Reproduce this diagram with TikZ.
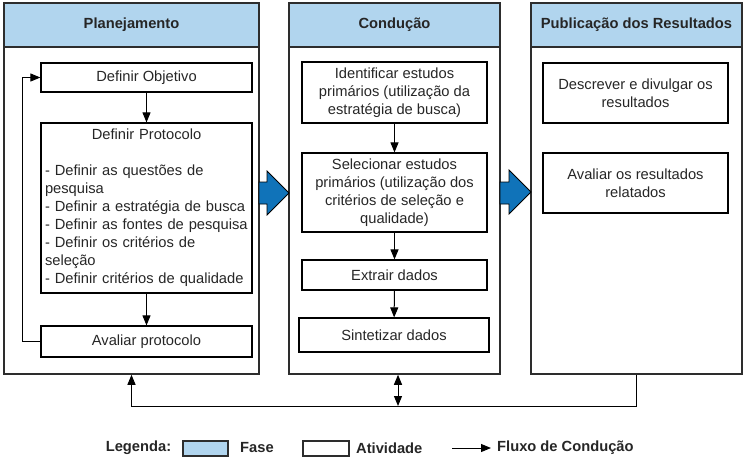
\documentclass[tikz,border=0pt]{standalone}
\usepackage{fontspec}
\setmainfont{Liberation Sans}
\usetikzlibrary{arrows.meta}
\definecolor{faseblue}{RGB}{177,213,238}
\definecolor{setablue}{RGB}{16,115,185}
\definecolor{borda}{RGB}{45,45,45}

\begin{document}
\begin{tikzpicture}[x=1pt,y=-1pt,
	font=\fontsize{14.7}{18}\selectfont, text=black!85,
	fase/.style={draw=borda,line width=1.5pt,minimum height=371pt,inner sep=0pt},
	titulo/.style={draw=borda,fill=faseblue,line width=1.5pt,minimum height=44pt,inner sep=0pt,font=\fontsize{14.7}{18}\selectfont\bfseries},
	atv/.style={draw=black,line width=1.2pt,inner sep=3pt,align=center},
	fluxo/.style={-{Triangle[length=10pt,width=8pt]},line width=1pt},
	seta/.style={fill=setablue,draw=black,line width=0.8pt},
	leg/.style={inner sep=0pt,font=\fontsize{14.7}{18}\selectfont\bfseries}]
		\useasboundingbox (0,0) rectangle (751,464);
		% fases
		\node[fase,minimum width=255pt] (plan) at (131.5,188.5) {};
		\node[fase,minimum width=211pt] (cond) at (394.5,188.5) {};
		\node[fase,minimum width=211pt] (pub) at (636.5,188.5) {};
		\node[titulo,minimum width=255pt] (planT) at (131.5,25) {Planejamento};
		\node[titulo,minimum width=211pt] (condT) at (394.5,25) {Condução};
		\node[titulo,minimum width=211pt] (pubT) at (636.5,25) {Publicação dos Resultados};
		% planejamento
		\node[atv,minimum width=211pt,minimum height=29pt] (obj) at (146.5,77.5) {Definir Objetivo};
		\node[atv,minimum width=211pt,minimum height=170pt,text width=203pt,align=left] (prot) at (146.5,208) {\makebox[203pt]{Definir Protocolo}\\[18pt]
			- Definir as questões de\\pesquisa\\- Definir a estratégia de busca\\- Definir as fontes de pesquisa\\- Definir os critérios de\\seleção\\- Definir critérios de qualidade};
		\node[atv,minimum width=211pt,minimum height=31pt] (aval) at (146.5,341.5) {Avaliar protocolo};
		\draw[fluxo] (obj) -- (prot);
		\draw[fluxo] (prot) -- (aval);
		\draw[fluxo] (aval.west) -- ++(-18,0) |- (obj.west);
		% conducao
		\node[atv,minimum width=185pt,minimum height=61pt] (ident) at (394.5,92.5) {Identificar estudos\\primários (utilização da\\estratégia de busca)};
		\node[atv,minimum width=185pt,minimum height=79pt] (sel) at (394.5,192.5) {Selecionar estudos\\primários (utilização dos\\critérios de seleção e\\qualidade)};
		\node[atv,minimum width=185pt,minimum height=30pt] (extr) at (394.5,275) {Extrair dados};
		\node[atv,minimum width=190pt,minimum height=34pt] (sint) at (394,335) {Sintetizar dados};
		\draw[fluxo] (ident) -- (sel);
		\draw[fluxo] (sel) -- (extr);
		\draw[fluxo] (extr) -- (sint);
		% publicacao
		\node[atv,minimum width=185pt,minimum height=60pt] (desc) at (635.5,93) {Descrever e divulgar os\\resultados};
		\node[atv,minimum width=185pt,minimum height=60pt] (avres) at (635.5,183) {Avaliar os resultados\\relatados};
		% setas entre fases
		\filldraw[seta] (259,182) -- (267,182) -- (267,171) -- (289,193) -- (267,215) -- (267,204) -- (259,204) -- cycle;
		\filldraw[seta] (500,182) -- (509,182) -- (509,170) -- (531,192) -- (509,214) -- (509,204) -- (500,204) -- cycle;
		% retorno
		\coordinate (junc) at (398,406);
		\draw[fluxo] (pub.south) -- ++(0,32) -| (plan.south);
		\draw[fluxo,{Triangle[length=10pt,width=8pt]}-{Triangle[length=10pt,width=8pt]}] (junc) -- (junc |- cond.south);
		% legenda
		\node[leg] (legTxt) at (138.5,448) {Legenda:};
		\node[draw=borda,fill=faseblue,line width=1.2pt,minimum width=45pt,minimum height=15pt,inner sep=0pt] (legFase) at (205.5,448.5) {};
		\node[leg,anchor=west] (legFaseTxt) at (240,448) {Fase};
		\node[draw=borda,line width=1.2pt,minimum width=46pt,minimum height=15pt,inner sep=0pt] (legAtv) at (326,448.5) {};
		\node[leg,anchor=west] (legAtvTxt) at (356,448) {Atividade};
		\coordinate (legSeta) at (452,448);
		\node[leg,anchor=west,inner sep=6pt] (legFluxo) at (491,448) {Fluxo de Condução};
		\draw[fluxo] (legSeta) -- (legFluxo.west);
	\end{tikzpicture}
\end{document}
